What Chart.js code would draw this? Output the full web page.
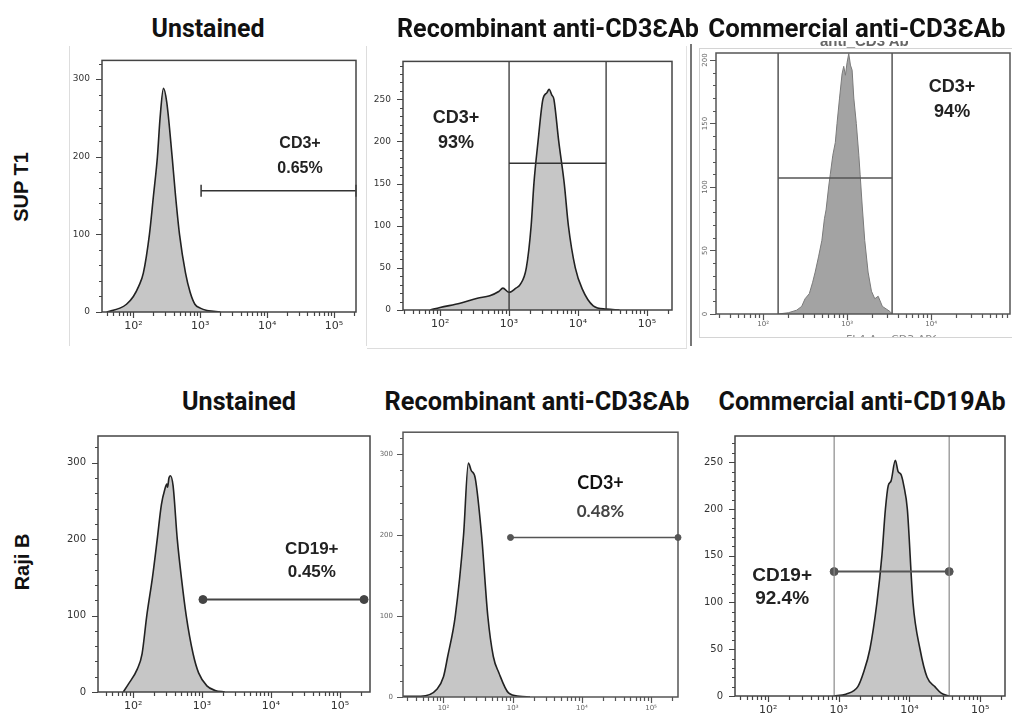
<!DOCTYPE html>
<html>
<head>
<meta charset="utf-8">
<script src="https://cdn.jsdelivr.net/npm/chart.js@4.4.0/dist/chart.umd.min.js"></script>
<style>
  body { margin: 0; width: 1012px; height: 719px; overflow: hidden; background: #fff; position: relative; }
  canvas { position: absolute; }
  .title { position: absolute; font: 700 26px Roboto, sans-serif; color: #111; white-space: nowrap; }
  .row { position: absolute; font: 700 20px "Liberation Sans", Arial, sans-serif; color: #111; white-space: nowrap;
         transform: translate(-50%, -50%) rotate(-90deg); }
  .frame { position: absolute; box-sizing: border-box; }
  .clip { position: absolute; overflow: hidden; }
  .clip span { position: absolute; white-space: nowrap; }
</style>
</head>
<body>
<script>
// fluorescence (x) and event count (y)

// SUP T1
const supUnstainedX = [40, 63, 79, 100, 120, 141, 174, 200, 229, 251, 282, 316, 380, 427, 490, 603, 708, 832, 1000, 1259, 1585, 1995];
const supUnstainedY = [0, 5, 10, 20, 33, 50, 100, 150, 200, 250, 288, 270, 200, 150, 100, 50, 25, 10, 5, 2, 1, 0];

const supRecombX = [72, 100, 195, 347, 525, 708, 813, 1000, 1259, 1445, 1778, 2089, 2291, 2630, 3090, 3548, 3802, 4169, 4467, 5248, 6310, 7244, 9120, 11482, 16596, 25704, 39811];
const supRecombY = [0, 3, 8, 14, 17, 22, 26, 21, 26, 30, 50, 100, 150, 200, 250, 258, 262, 255, 250, 200, 150, 100, 50, 25, 5, 1, 0];

const supCommX = [151, 200, 251, 288, 316, 355, 389, 417, 457, 501, 537, 562, 603, 631, 676, 724, 759, 813, 871, 912, 955, 1000, 1047, 1096, 1148, 1202, 1288, 1380, 1429, 1514, 1622, 1778, 1950, 2138, 2344, 2630, 3236, 3467];
const supCommY = [0, 1, 3, 6, 12, 16, 25, 33, 45, 58, 75, 82, 100, 110, 125, 135, 150, 170, 189, 195, 188, 198, 205, 196, 192, 170, 150, 125, 110, 85, 58, 33, 18, 12, 14, 6, 2, 0];

// Raji B
const rajiUnstainedX = [72, 85, 115, 135, 158, 191, 224, 257, 288, 309, 316, 331, 347, 380, 437, 501, 589, 741, 891, 1175, 1549, 2138];
const rajiUnstainedY = [0, 10, 30, 50, 100, 150, 200, 245, 265, 272, 268, 280, 283, 270, 200, 150, 100, 50, 25, 8, 2, 0];

const rajiRecombX = [26, 47, 81, 100, 115, 148, 195, 229, 251, 288, 355, 437, 525, 631, 871, 1259, 1778];
const rajiRecombY = [1, 1, 10, 25, 50, 100, 200, 289, 280, 270, 200, 100, 50, 30, 5, 1, 0];

const rajiCommX = [851, 1259, 1862, 2239, 2754, 3467, 4074, 4571, 5012, 5495, 6310, 6918, 7586, 8318, 9333, 11220, 14125, 17783, 22909, 28184, 36308];
const rajiCommY = [0, 2, 10, 25, 50, 100, 150, 200, 225, 230, 252, 240, 237, 225, 200, 100, 50, 20, 10, 3, 0];

// gates: [start, end] on x, level on y
const supUnstainedGate = [1030, 213000], supUnstainedGateY = 156;
const supRecombGate = [1000, 25500], supRecombGateY = 174;
const supCommGate = [151, 3435], supCommGateY = 107;
const rajiUnstainedGate = [1030, 223000], rajiUnstainedGateY = 121;
const rajiRecombGate = [930, 245000], rajiRecombGateY = 197;
const rajiCommGate = [860, 36500], rajiCommGateY = 133;

// axis tick labels
const decadeValues = [100, 1000, 10000, 100000];
const decadeLabels = ['10²', '10³', '10⁴', '10⁵'];
const rotatedYLabels = [0, 50, 100, 150, 200];

const titles = [
    ['Unstained', 208, 28, 113],
    ['Recombinant anti-CD3ƐAb', 548, 28, 302],
    ['Commercial anti-CD3ƐAb', 857, 28, 297],
    ['Unstained', 239, 401, 114],
    ['Recombinant anti-CD3ƐAb', 537, 401, 305],
    ['Commercial anti-CD19Ab', 862, 401, 287]
];

function pts(xs, ys) {
    return xs.map((v, i) => ({ x: v, y: ys[i] }));
}

function hGate(g, y) {
    return [{ x: g[0], y: y }, { x: g[1], y: y }];
}

function vGate(x, yMax) {
    return [{ x: x, y: 0 }, { x: x, y: yMax }];
}

// frame, minor/major tick marks, annotations
const flowPlugin = {
    id: 'flow',
    afterDatasetsDraw(chart) {
        const p = chart.options.plugins.flow;
        const ctx = chart.ctx;
        const a = chart.chartArea;
        const x = chart.scales.x, y = chart.scales.y;
        ctx.save();
        ctx.strokeStyle = p.frame;
        ctx.lineWidth = 1.5;
        ctx.strokeRect(a.left, a.top, a.right - a.left, a.bottom - a.top);

        ctx.lineWidth = 1.2;
        ctx.strokeStyle = p.tickColor;
        ctx.beginPath();
        for (let d = 1; d <= 5; d++) {
            for (let m = 1; m <= 9; m++) {
                const v = m * Math.pow(10, d);
                if (v < x.min || v > x.max) continue;
                const px = Math.round(x.getPixelForValue(v)) + 0.5;
                ctx.moveTo(px, a.bottom);
                ctx.lineTo(px, a.bottom + (m === 1 ? 6 : 4));
            }
        }
        for (let v = 0; v <= y.max; v += p.minor) {
            const py = Math.round(y.getPixelForValue(v)) + 0.5;
            ctx.moveTo(a.left, py);
            ctx.lineTo(a.left - (v % p.major === 0 ? 6 : 3), py);
        }
        ctx.stroke();

        if (p.rotY) {
            ctx.font = '7px "DejaVu Sans"';
            ctx.fillStyle = '#666';
            ctx.textAlign = 'center';
            ctx.textBaseline = 'middle';
            rotatedYLabels.forEach(v => {
                ctx.save();
                ctx.translate(a.left - 11, y.getPixelForValue(v));
                ctx.rotate(-Math.PI / 2);
                ctx.fillText(String(v), 0, 0);
                ctx.restore();
            });
        }

        const n = p.note;
        ctx.textAlign = 'center';
        ctx.textBaseline = 'middle';
        const nx = x.getPixelForValue(n.x), ny = y.getPixelForValue(n.y);
        n.lines.forEach((t, i) => {
            ctx.font = n.fonts[i];
            ctx.fillStyle = n.colors[i];
            ctx.fillText(t, nx, ny + i * n.lh);
        });
        ctx.restore();
    }
};

function buildPanel(p) {
    const W = 45, H = 35, PT = 10, PR = 12;
    const w = p.right - p.left + W + PR, h = p.bottom - p.top + PT + H;
    const cv = document.createElement('canvas');
    cv.width = w; cv.height = h;
    cv.style.left = (p.left - W) + 'px';
    cv.style.top = (p.top - PT) + 'px';
    cv.style.width = w + 'px';
    cv.style.height = h + 'px';
    document.body.appendChild(cv);

    let datasets = p.gates.map(g => ({
        data: g.data,
        borderColor: g.color,
        borderWidth: g.width,
        pointRadius: g.r || 0,
        pointStyle: g.style || 'circle',
        rotation: g.rot || 0,
        pointBorderWidth: g.style === 'line' ? 1.5 : 1,
        pointBackgroundColor: g.color,
        pointBorderColor: g.color,
        fill: false,
        tension: 0,
        clip: false
    }));
    datasets.push({
        data: pts(p.xs, p.ys),
        borderColor: p.line,
        borderWidth: p.lw,
        backgroundColor: p.fill,
        fill: 'origin',
        pointRadius: 0,
        tension: 0,
        cubicInterpolationMode: p.smooth ? 'monotone' : 'default'
    });

    new Chart(cv, {
        type: 'line',
        data: { datasets: datasets },
        options: {
            responsive: false,
            animation: false,
            events: [],
            layout: { padding: { top: PT, right: PR, left: 0, bottom: 0 } },
            plugins: {
                legend: { display: false },
                tooltip: { enabled: false },
                flow: {
                    frame: p.frame, tickColor: p.tickColor,
                    minor: p.minor, major: p.major,
                    rotY: p.rotY, note: p.note
                }
            },
            scales: {
                x: {
                    type: 'logarithmic',
                    min: p.xMin, max: p.xMax,
                    grid: { display: false, drawTicks: false },
                    border: { display: false },
                    afterBuildTicks: s => {
                        s.ticks = decadeValues.filter(v => v >= s.min && v <= s.max).map(v => ({ value: v }));
                    },
                    afterFit: s => { s.height = H; },
                    ticks: {
                        autoSkip: false, maxRotation: 0, padding: p.xPad,
                        color: p.tickText, font: { family: 'DejaVu Sans', size: p.xFont },
                        callback: v => decadeLabels[decadeValues.indexOf(v)]
                    }
                },
                y: {
                    type: 'linear',
                    min: 0, max: p.yMax,
                    grid: { display: false, drawTicks: false },
                    border: { display: false },
                    afterFit: s => { s.width = W; },
                    ticks: {
                        display: !p.rotY,
                        stepSize: p.major, includeBounds: false, padding: p.yPad,
                        color: p.tickText, font: { family: 'DejaVu Sans', size: p.yFont }
                    }
                }
            }
        },
        plugins: [flowPlugin]
    });
}

// light screenshot borders round the top panels
function addFrame(l, t, w, h, border) {
    const d = document.createElement('div');
    d.className = 'frame';
    d.style.left = l + 'px'; d.style.top = t + 'px';
    d.style.width = w + 'px'; d.style.height = h + 'px';
    d.style.cssText += border;
    document.body.appendChild(d);
}
addFrame(69, 46, 298, 300, 'border-left:1px solid #ddd;border-right:1px solid #ddd;');
addFrame(367, 46, 320, 303, 'border-bottom:1px solid #ddd;border-right:1px solid #e2e2e2;');
addFrame(699, 48, 320, 290, 'border:1px solid #d4d4d4;');
addFrame(690, 44, 2, 302, 'background:#777;');

const black = '#222';
const gateDark = '#333';

buildPanel({
    left: 102, top: 53, right: 356, bottom: 312,
    xMin: 34, xMax: 213000, yMax: 324, minor: 20, major: 100,
    xs: supUnstainedX, ys: supUnstainedY, smooth: true,
    line: black, lw: 1.6, fill: '#c6c6c6',
    frame: '#444', tickColor: '#444', tickText: '#333',
    xFont: 11, yFont: 9, xPad: 8, yPad: 12,
    gates: [{ data: hGate(supUnstainedGate, supUnstainedGateY), color: gateDark, width: 1.5, r: 6, style: 'line', rot: 90 }],
    note: { x: 31000, y: 217, lh: 25, lines: ['CD3+', '0.65%'],
            fonts: ['bold 16px "Liberation Sans"', 'bold 16px "Liberation Sans"'], colors: [black, black] }
});

buildPanel({
    left: 403, top: 54, right: 672, bottom: 310,
    xMin: 29, xMax: 230000, yMax: 295, minor: 10, major: 50,
    xs: supRecombX, ys: supRecombY, smooth: true,
    line: black, lw: 1.6, fill: '#c6c6c6',
    frame: '#444', tickColor: '#444', tickText: '#333',
    xFont: 11, yFont: 9, xPad: 8, yPad: 12,
    gates: [
        { data: vGate(supRecombGate[0], 295), color: gateDark, width: 1.3 },
        { data: vGate(supRecombGate[1], 295), color: gateDark, width: 1.3 },
        { data: hGate(supRecombGate, supRecombGateY), color: gateDark, width: 1.5 }
    ],
    note: { x: 170, y: 228, lh: 25, lines: ['CD3+', '93%'],
            fonts: ['bold 18px "Liberation Sans"', 'bold 18px "Liberation Sans"'], colors: [black, black] }
});

buildPanel({
    left: 716, top: 53, right: 1010, bottom: 314,
    xMin: 27.5, xMax: 87000, yMax: 205.5, minor: 10, major: 50,
    xs: supCommX, ys: supCommY, smooth: false,
    line: '#7a7a7a', lw: 1, fill: '#a3a3a3',
    frame: '#555', tickColor: '#555', tickText: '#666',
    xFont: 7, yFont: 7, xPad: 6, yPad: 10, rotY: true,
    gates: [
        { data: vGate(supCommGate[0], 205.5), color: '#555', width: 1.5 },
        { data: vGate(supCommGate[1], 205.5), color: '#555', width: 1.5 },
        { data: hGate(supCommGate, supCommGateY), color: '#555', width: 1.5 }
    ],
    note: { x: 17800, y: 179, lh: 25, lines: ['CD3+', '94%'],
            fonts: ['bold 18px "Liberation Sans"', 'bold 18px "Liberation Sans"'], colors: [black, black] }
});

buildPanel({
    left: 98, top: 428, right: 370, bottom: 692,
    xMin: 31, xMax: 272000, yMax: 335, minor: 20, major: 100,
    xs: rajiUnstainedX, ys: rajiUnstainedY, smooth: true,
    line: black, lw: 1.6, fill: '#c6c6c6',
    frame: '#444', tickColor: '#444', tickText: '#333',
    xFont: 11, yFont: 10, xPad: 8, yPad: 12,
    gates: [{ data: hGate(rajiUnstainedGate, rajiUnstainedGateY), color: '#444', width: 2, r: 4 }],
    note: { x: 39000, y: 187, lh: 23, lines: ['CD19+', '0.45%'],
            fonts: ['bold 17px "Liberation Sans"', 'bold 17px "Liberation Sans"'], colors: [black, black] }
});

buildPanel({
    left: 403, top: 428, right: 678, bottom: 697,
    xMin: 26, xMax: 245000, yMax: 327, minor: 20, major: 100,
    xs: rajiRecombX, ys: rajiRecombY, smooth: true,
    line: black, lw: 1.6, fill: '#c6c6c6',
    frame: '#555', tickColor: '#555', tickText: '#666',
    xFont: 7, yFont: 7, xPad: 7, yPad: 10,
    gates: [{ data: hGate(rajiRecombGate, rajiRecombGateY), color: '#555', width: 1.5, r: 3 }],
    note: { x: 18600, y: 264, lh: 28, lines: ['CD3+', '0.48%'],
            fonts: ['bold 18px Lato', 'bold 17px Lato'], colors: ['#111', '#444'] }
});

buildPanel({
    left: 735, top: 428, right: 1005, bottom: 696,
    xMin: 34, xMax: 225000, yMax: 278, minor: 10, major: 50,
    xs: rajiCommX, ys: rajiCommY, smooth: true,
    line: black, lw: 1.6, fill: '#c6c6c6',
    frame: '#444', tickColor: '#444', tickText: '#333',
    xFont: 11, yFont: 10, xPad: 8, yPad: 12,
    gates: [
        { data: vGate(rajiCommGate[0], 278), color: '#8a8a8a', width: 1.2 },
        { data: vGate(rajiCommGate[1], 278), color: '#8a8a8a', width: 1.2 },
        { data: hGate(rajiCommGate, rajiCommGateY), color: '#555', width: 2, r: 4 }
    ],
    note: { x: 158, y: 129, lh: 23, lines: ['CD19+', '92.4%'],
            fonts: ['bold 19px "Liberation Sans"', 'bold 19px "Liberation Sans"'], colors: [black, black] }
});

// half-hidden leftover text of the pasted commercial panel
function addClipped(text, l, t, w, h, font, color, dy) {
    const c = document.createElement('div');
    c.className = 'clip';
    c.style.left = l + 'px'; c.style.top = t + 'px';
    c.style.width = w + 'px'; c.style.height = h + 'px';
    const s = document.createElement('span');
    s.textContent = text;
    s.style.font = font; s.style.color = color;
    s.style.left = '0px'; s.style.top = dy + 'px';
    c.appendChild(s);
    document.body.appendChild(c);
}
addClipped('anti_CD3 Ab', 820, 41, 120, 11, 'bold 15px "Liberation Sans"', '#666', -9);
addClipped('FL4-A :: CD3 APC', 846, 333, 90, 4, '11px "DejaVu Sans"', '#888', 0);

titles.forEach(([t, cx, cy, tw]) => {
    const d = document.createElement('div');
    d.className = 'title';
    d.textContent = t;
    document.body.appendChild(d);
    const s = tw / d.offsetWidth;
    d.style.left = cx + 'px';
    d.style.top = cy + 'px';
    d.style.transform = 'translate(-50%, -50%) scaleX(' + s.toFixed(3) + ')';
});

[['SUP T1', 21, 187], ['Raji B', 22, 562]].forEach(([t, cx, cy]) => {
    const d = document.createElement('div');
    d.className = 'row';
    d.textContent = t;
    d.style.left = cx + 'px';
    d.style.top = cy + 'px';
    document.body.appendChild(d);
});
</script>
</body>
</html>
